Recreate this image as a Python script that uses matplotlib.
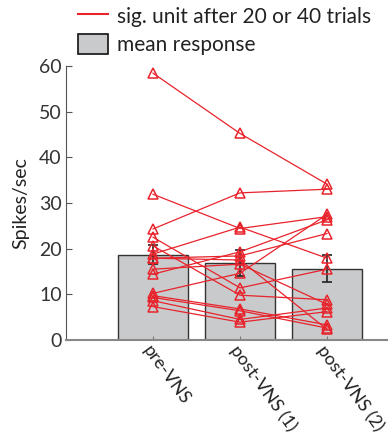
import numpy as np
import matplotlib
matplotlib.use("Agg")
import matplotlib.pyplot as plt
from matplotlib.lines import Line2D
from matplotlib.patches import Patch

plt.rcParams['font.family'] = ['Lato', 'DejaVu Sans']

# conditions
conds = ["pre-VNS", "post-VNS (1)", "post-VNS (2)"]

# mean response (bars) and error
mean_resp = [18.7, 16.8, 15.6]
mean_err = [2.0, 2.9, 3.0]

# single units, spikes/sec per condition
pre = [58.4, 31.9, 24.3, 22.5, 20.6, 18.8, 17.9, 17.9, 15.5, 14.4, 10.2, 9.7, 9.3, 8.6, 7.3]
post1 = [45.2, 24.4, 32.2, 11.4, 9.8, 24.7, 17.5, 18.4, 16.6, 19.3, 14.6, 6.8, 6.4, 4.5, 3.9]
post2 = [34.1, 27.0, 33.0, 15.5, 8.8, 17.9, 2.3, 23.3, 7.8, 26.3, 27.5, 3.3, 2.6, 7.0, 6.2]

red = "#e8232b"
x = np.arange(len(conds))

fig = plt.figure(figsize=(3.88, 4.45), dpi=100)
ax = fig.add_axes([0.170, 0.236, 0.830, 0.616])

ax.bar(x, mean_resp, width=0.8, color="#c9cacc", edgecolor="#333333", linewidth=1.0, zorder=1)
ax.errorbar(x, mean_resp, yerr=mean_err, fmt="none", ecolor="#222222", elinewidth=1.2,
            capsize=3.5, capthick=1.2, zorder=2)

units = np.array([pre, post1, post2])
for k in range(units.shape[1]):
    ax.plot(x, units[:, k], color=red, lw=0.9, marker="^", markersize=6.5,
            markerfacecolor="none", markeredgecolor=red, markeredgewidth=1.1, zorder=3)

ax.set_xlim(-1.0, 2.7)
ax.set_ylim(0, 60)
ax.set_yticks([0, 10, 20, 30, 40, 50, 60])
ax.set_xticks(x)
ax.set_xticklabels(conds, rotation=-54, rotation_mode="anchor", ha="left", va="top")
ax.tick_params(axis="y", direction="in", length=4, width=0.8, color="#555555",
               labelsize=14, labelcolor="#333333", pad=3)
ax.tick_params(axis="x", direction="in", length=3, width=0.8, color="#777777",
               labelsize=13, labelcolor="#222222", pad=2)
ax.set_ylabel("Spikes/sec", fontsize=14, color="#222222", labelpad=7)

for s in ["top", "right"]:
    ax.spines[s].set_visible(False)
ax.spines["left"].set_color("#555555")
ax.spines["left"].set_linewidth(0.8)
ax.spines["bottom"].set_color("#888888")
ax.spines["bottom"].set_linewidth(1.5)

handles = [Line2D([0], [0], color=red, lw=1.5),
           Patch(facecolor="#c9cacc", edgecolor="#111111", linewidth=1.2)]
labels = ["sig. unit after 20 or 40 trials", "mean response"]
fig.legend(handles, labels, loc="upper left", bbox_to_anchor=(0.168, 1.015), frameon=False,
           fontsize=15, handlelength=1.45, handleheight=1.1, handletextpad=0.45,
           labelspacing=0.35, borderaxespad=0.2, labelcolor="#222222")

fig.savefig("out.png", dpi=100)
